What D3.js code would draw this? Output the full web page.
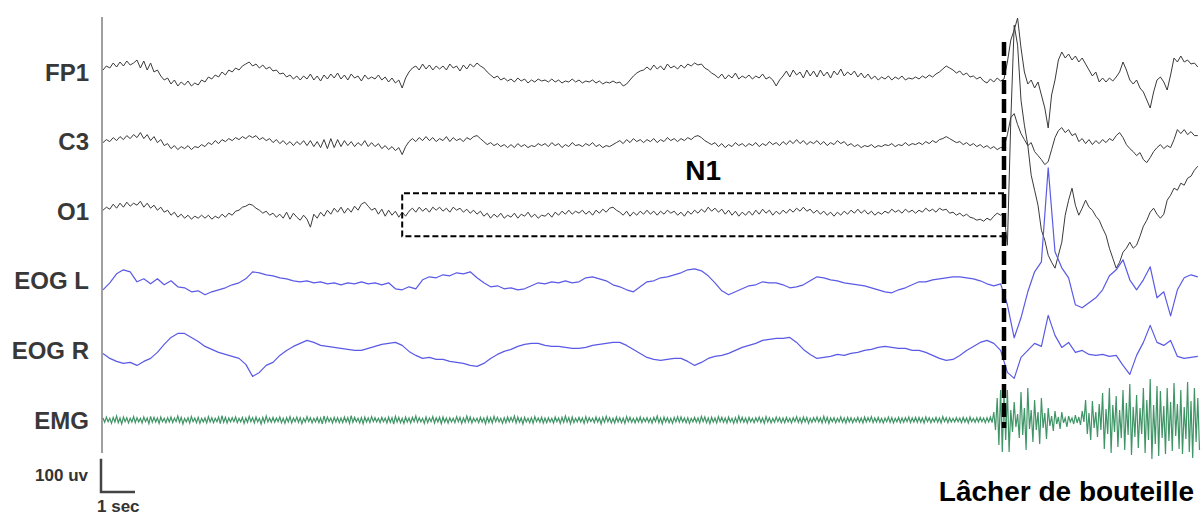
<!DOCTYPE html>
<html>
<head>
<meta charset="utf-8">
<script src="https://cdn.jsdelivr.net/npm/d3@7"></script>
<style>
  body { margin: 0; background: #fff; }
  text { font-family: "Liberation Sans", Arial, sans-serif; font-weight: bold; }
</style>
</head>
<body>
<script>
// channel names, top to bottom
const channels = ["FP1", "C3", "O1", "EOG L", "EOG R", "EMG"];

// EEG channels: one value (uv) every 0.1 s
const fp1 = [
  6, 18, 12, 27, 15, 30, 18, 33, 21, 27, 36, 12, 33, 6, 27, 0, 6, -12, -24, -18,
  -36, -24, -42, -30, -39, -27, -42, -33, -39, -24, -30, -15, -21, -9, -15, 0, -9, 6, 0, 12,
  6, 18, 24, 30, 18, 24, 12, 21, 9, 15, 3, 6, -6, -3, -15, -9, -21, -12, -24, -12,
  -21, -6, -24, -12, -27, -9, -21, -6, -18, -3, -21, -9, -24, -6, -18, -12, -27, -9, -21, -15,
  -21, -9, -24, -15, -30, -18, -33, -24, -48, -18, 0, 12, 18, 6, 24, 9, 21, 6, 18, 9,
  18, 6, 24, 12, 18, 3, 21, 9, 24, 15, 27, 18, 12, 0, -9, -18, -12, -24, -18, -27,
  -21, -30, -18, -27, -21, -33, -24, -30, -21, -27, -24, -30, -21, -30, -24, -33, -27, -30, -21, -30,
  -24, -33, -27, -30, -24, -33, -27, -36, -30, -33, -27, -33, -30, -42, -36, -24, -12, -3, 3, 6,
  15, 6, 21, 9, 18, 6, 24, 12, 18, 9, 21, 12, 24, 18, 27, 21, 24, 12, 6, -3,
  -9, -18, -6, -21, -9, -18, -3, -21, -12, -18, -9, -21, -12, -18, -6, -21, -15, -24, -42, -24,
  -12, 3, -15, 6, -9, 0, -18, 6, -12, 3, -15, 6, -12, 0, -18, 3, -9, 9, -12, 0,
  -9, 3, -15, -3, -18, -6, -21, -12, -24, -15, -21, -12, -24, -15, -21, -12, -24, -18, -21, -15,
  -21, -12, -18, -9, -15, -6, 0, 9, 18, 12, 6, -3, 3, -9, -3, -15, -12, -21, -15, -27,
  -33, -21, -30, -18, -27, -21,
  30, 96, 126, 162, 72, 0, -36, -24, -48, -30, -69, -108, -168, -69, -24, 36, 60, 42, 54, 36,
  48, 30, 42, 24, 6, -12, 0, -30, -18, -30, -18, -27, -15, 0, 30, 6, -24, -36, -24, -48,
  -60, -84, -108, -60, -24, -15, -30, -54, -9, 42, 30, 48, 30, 36, 24, 27, 15
];
const c3 = [
  -3, 6, 0, 12, 3, 15, 6, 18, 9, 21, 12, 27, 9, 21, 3, 15, -3, 6, -12, -6,
  -21, -12, -24, -15, -21, -12, -24, -15, -18, -9, -15, -3, -9, 3, -6, 6, 0, 9, 3, 12,
  6, 15, 9, 18, 12, 18, 6, 12, 3, 9, -3, 6, -6, 3, -9, 0, -12, 0, -9, 3,
  -12, 3, -15, 0, -18, 6, -21, 9, -18, 6, -15, 3, -12, 0, -15, -3, -12, 3, -15, -3,
  -15, -6, -21, -12, -24, -15, -27, -18, -39, -15, 0, 9, 0, 12, 3, 15, 3, 12, 0, 9,
  3, 15, 0, 12, 3, 9, 0, 12, 6, 15, 18, 9, 0, -9, -3, -12, -6, -15, -9, -18,
  -9, -18, -6, -15, -9, -18, -12, -15, -6, -12, -6, -15, -3, -12, -6, -18, -9, -15, -3, -12,
  -9, -15, -6, -12, -3, -15, -9, -18, -12, -15, -9, -3, 3, -6, 6, -3, 9, 0, 6, -3,
  6, 0, 9, -3, 6, 0, 12, 3, 9, 0, 9, 3, 12, 6, 15, 18, 12, 3, -3, -9,
  -3, -15, -6, -18, -9, -15, -3, -12, -6, -15, -6, -12, -3, -15, -6, -12, 0, -9, -3, -12,
  0, -9, 3, -6, 6, -6, 3, -9, 0, -6, 3, -9, 0, -12, -3, -9, 3, -6, 0, -12,
  -6, -15, -9, -18, -12, -15, -9, -18, -12, -15, -9, -12, -6, -15, -9, -12, -3, -12, -6, -9,
  -3, -9, 0, -6, 3, -3, 6, 9, 15, 9, 3, -3, 0, -9, -3, -12, -6, -15, -9, -18,
  -12, -21, -15, -24, -18, -18,
  21, 72, 84, 51, 24, 6, -12, -3, -30, -42, -54, -69, -60, -24, 12, 33, 42, 27, 36, 18,
  24, 0, 9, -6, 6, -9, 3, -6, 6, -3, 9, 3, 18, 27, 12, -9, -21, -30, -42, -33,
  -54, -63, -48, -30, -18, -9, -21, -12, -18, 6, 36, 24, 36, 21, 30, 18, 18
];
const o1 = [
  3, 12, 6, 21, 9, 24, 12, 27, 15, 24, 18, 30, 12, 24, 9, 18, 3, 12, -3, 3,
  -12, -3, -18, -9, -21, -12, -24, -15, -21, -12, -21, -12, -24, -15, -21, -9, -18, -6, -12, 0,
  3, 12, 15, 21, 18, 9, 3, -6, 0, -12, -6, -18, -9, -21, -3, -24, -6, -18, -27, -12,
  -24, -48, -9, -21, -3, -15, 3, -9, 9, -3, 12, -6, 9, -3, 15, 3, 21, 27, 15, 3,
  9, -9, 6, -15, 3, -12, 0, -18, -3, -15, 0, 9, -3, 12, 0, 9, -3, 12, 3, 12,
  0, 9, -3, 12, 3, 9, -3, 6, -6, 3, -9, 0, -15, -6, -21, -9, -18, -6, -21, -12,
  -18, -6, -21, -9, -15, -3, -18, -9, -21, -12, -15, -6, -18, -3, -12, 0, -9, 3, -9, 0,
  -6, 3, -9, 0, -12, 3, -6, 6, -3, 9, 12, 3, -3, -12, 0, -15, -3, -12, 0, -9,
  3, -9, 0, -12, 0, -9, 3, -6, 0, -12, -3, -15, 0, -9, 3, -6, 6, -3, 12, 0,
  9, -3, 6, -9, 3, -12, 0, -15, -3, -12, 0, -12, 3, -9, 6, -6, 3, -12, 0, -9,
  3, -6, 6, -3, 9, 0, 12, 0, 6, -6, 3, -9, 0, -12, -3, -15, -3, -12, 0, -9,
  3, -6, 6, -6, 3, -9, 0, -12, -3, -9, 0, -6, 6, -3, 3, -6, 6, -3, 3, -6,
  3, -3, 9, 0, 6, -3, 9, 3, 6, -6, -3, -12, -6, -15, -9, -18, -21, -27, -24, -30,
  -21, -27, -15, -6, -12, -6,
  -102, 273, 558, 498, 333, 258, 198, 108, 63, 18, -57, -87, -132, -153, -171, -132, -93, -12, 33, 69,
  18, -12, 9, 33, 12, 3, -15, -27, -51, -72, -111, -141, -171, -153, -123, -111, -93, -111, -102, -75,
  -45, -27, -3, 9, -9, -21, -9, 33, 48, 69, 63, 84, 78, 99, 105, 123, 135
];

// EOG channels: one value (uv) every 0.2 s
const eogL = [
  -27, -6, 21, 33, 27, -3, 6, -9, 6, -12, 0, -18, -21, -33, -30, -42, -33, -27, -21, -12,
  -6, 6, 27, 24, 18, 15, 9, 6, 0, -3, 0, -6, -3, -9, -6, -12, -6, -9, -3, -9,
  -6, -12, -6, -24, -27, -18, -24, 3, 12, 9, 18, 15, 24, 21, 27, 9, -6, -18, -15, -24,
  -21, -27, -24, -15, -6, -9, -3, -6, 0, -6, -3, 9, 12, 6, 0, -12, -18, -27, -33, -18,
  -3, 0, 9, 12, 18, 24, 33, 36, 30, 15, -6, -30, -42, -33, -24, -15, -12, -3, -6, -6,
  -12, -21, -18, -12, 0, 12, 9, 3, 0, -6, -9, -12, -15, -21, -27, -33, -36, -27, -21, -12,
  -3, -3, 3, 6, 9, 12, 12, 9, 6, 0, -9, -15, -9, -72, -171, -111, -33, 27, 57, 339,
  87, 39, 9, -72, -81, -66, -51, -27, 15, 33, 63, 3, -27, 3, 42, -51, -33, -105, -27, 9,
  18, 12
];
const eogR = [
  -9, -24, -33, -39, -36, -45, -33, -24, -6, 18, 39, 51, 51, 39, 27, 12, 3, -6, -12, -18,
  -24, -42, -78, -66, -45, -36, -15, 0, 12, 21, 30, 24, 15, 12, 9, 6, 3, 0, 0, 6,
  12, 18, 21, 24, 15, -3, -15, -24, -21, -27, -27, -33, -36, -39, -45, -48, -39, -24, -12, -3,
  3, 12, 18, 21, 21, 15, 12, 12, 9, 6, 6, 9, 15, 18, 21, 24, 24, 15, 3, -9,
  -21, -27, -30, -27, -24, -24, -33, -45, -36, -24, -18, -15, -9, 0, 9, 15, 21, 30, 33, 36,
  36, 39, 24, 3, -12, -24, -21, -18, -12, -15, -9, -6, 0, 3, 9, 12, 9, 6, 6, 0,
  0, -6, -15, -24, -30, -27, -15, 0, 12, 24, 30, 21, 0, -66, -84, -21, 0, 21, 12, 105,
  45, 9, 24, -6, 0, -12, -15, -12, -18, -15, -45, -72, -15, 24, 75, 24, 15, 30, -18, -24,
  -21, -18
];

// EMG: positive and negative peak (uv) in each 0.1 s
const emgHi = [
  6, 9, 5, 8, 12, 6, 9, 7, 5, 10, 7, 5, 9, 6, 11, 8, 6, 9, 5, 7,
  9, 6, 12, 8, 5, 7, 10, 6, 8, 5, 6, 10, 7, 5, 9, 13, 8, 6, 7, 9,
  5, 8, 6, 11, 7, 9, 5, 8, 12, 6, 8, 6, 9, 5, 7, 10, 6, 9, 7, 5,
  10, 7, 5, 8, 6, 12, 9, 6, 8, 7, 6, 9, 7, 13, 8, 5, 7, 9, 6, 10,
  7, 5, 8, 6, 9, 7, 11, 8, 5, 9, 6, 8, 12, 7, 5, 9, 6, 10, 7, 8,
  9, 6, 7, 5, 10, 8, 6, 12, 9, 6, 5, 8, 6, 9, 7, 11, 8, 5, 7, 9,
  8, 12, 9, 6, 8, 5, 7, 10, 6, 8, 6, 7, 5, 9, 6, 8, 12, 7, 9, 5,
  8, 6, 10, 7, 5, 9, 6, 8, 11, 7, 5, 9, 7, 6, 10, 8, 5, 7, 9, 6,
  7, 5, 8, 12, 6, 9, 7, 5, 8, 10, 9, 6, 7, 5, 8, 6, 11, 9, 6, 8,
  6, 10, 8, 6, 9, 5, 7, 12, 8, 6, 8, 5, 7, 9, 6, 10, 7, 5, 9, 7,
  6, 8, 5, 7, 10, 6, 9, 8, 5, 7, 9, 6, 11, 8, 6, 7, 5, 9, 6, 8,
  7, 5, 8, 6, 9, 7, 10, 6, 8, 5, 6, 9, 7, 5, 8, 6, 7, 9, 6, 8,
  8, 6, 9, 7, 5, 8, 6, 10, 7, 6, 5, 7, 6, 8, 6, 9, 5, 7, 8, 6,
  7, 9, 24, 66, 90, 78,
  90, 30, 54, 18, 84, 36, 96, 30, 60, 24, 66, 21, 36, 12, 27, 9, 24, 6, 12, 6,
  15, 9, 27, 60, 21, 57, 24, 48, 81, 33, 96, 45, 72, 30, 90, 51, 108, 39, 75, 36,
  96, 60, 123, 45, 102, 87, 42, 96, 54, 111, 48, 90, 39, 114, 57, 96, 66
];
const emgLo = [
  -7, -5, -10, -6, -8, -12, -5, -9, -6, -8, -6, -9, -5, -11, -7, -6, -10, -5, -8, -6,
  -8, -5, -7, -12, -6, -9, -5, -8, -10, -6, -9, -6, -8, -5, -11, -7, -9, -6, -5, -8,
  -6, -10, -7, -5, -9, -6, -12, -8, -6, -7, -7, -5, -8, -10, -6, -9, -5, -7, -11, -6,
  -5, -9, -6, -8, -12, -7, -5, -9, -6, -8, -8, -6, -10, -7, -5, -9, -11, -6, -8, -5,
  -6, -8, -5, -9, -7, -12, -6, -8, -10, -6, -9, -5, -7, -6, -10, -8, -5, -9, -6, -11,
  -7, -9, -6, -8, -5, -10, -7, -6, -9, -5, -8, -6, -11, -7, -9, -5, -6, -10, -8, -6,
  -5, -9, -7, -12, -6, -8, -10, -5, -7, -9, -8, -6, -9, -5, -10, -7, -6, -11, -8, -6,
  -6, -10, -7, -5, -8, -6, -12, -7, -5, -9, -9, -6, -8, -10, -5, -7, -9, -6, -8, -5,
  -7, -9, -5, -8, -11, -6, -8, -10, -6, -7, -6, -8, -10, -6, -7, -9, -5, -8, -11, -6,
  -9, -5, -7, -9, -6, -10, -8, -6, -7, -9, -6, -8, -5, -7, -10, -6, -9, -7, -5, -8,
  -8, -6, -9, -5, -7, -9, -6, -10, -7, -5, -6, -9, -7, -10, -5, -8, -6, -7, -9, -6,
  -8, -5, -7, -9, -6, -5, -8, -6, -7, -9, -5, -7, -9, -6, -8, -7, -5, -8, -6, -7,
  -7, -9, -5, -8, -6, -7, -9, -5, -8, -6, -6, -5, -8, -6, -9, -5, -7, -6, -5, -8,
  -6, -8, -30, -75, -96, -60,
  -96, -36, -21, -54, -45, -90, -27, -66, -30, -72, -24, -57, -18, -33, -12, -27, -9, -21, -6, -12,
  -9, -15, -6, -42, -60, -24, -51, -30, -87, -42, -99, -36, -81, -54, -90, -45, -105, -51, -84, -42,
  -99, -60, -117, -72, -108, -54, -102, -63, -93, -48, -87, -102, -57, -96, -114, -66, -90
];

const eventSec = 26.5;   // bottle drop
const n1Start = 8.8;     // start of the N1 window

const w = 1201;
const h = 517;
const secPx = 34;

const svg = d3.select("body")
  .append("svg")
  .attr("width", w)
  .attr("height", h)
  .style("display", "block");

const x = d3.scaleLinear()
  .domain([0, 32.2])
  .range([103, 103 + 32.2 * secPx]);

const rowY = d3.scalePoint()
  .domain(channels)
  .range([72, 420]);

// uv -> vertical offset in px (up is positive)
const amp = d3.scaleLinear()
  .domain([0, 100])
  .range([0, -100 / 3]);

function trace(vals, step, ch) {
  return d3.line()
    .x((d, i) => x(i * step))
    .y(d => rowY(ch) + amp(d))(vals);
}

// vertical time axis line
svg.append("line")
  .attr("x1", 102).attr("x2", 102)
  .attr("y1", 17).attr("y2", 453)
  .attr("stroke", "#808080")
  .attr("stroke-width", 1.5);

// channel labels
svg.selectAll(".lab")
  .data(channels)
  .enter()
  .append("text")
  .attr("class", "lab")
  .attr("x", 89)
  .attr("y", d => rowY(d))
  .attr("dy", "0.36em")
  .attr("text-anchor", "end")
  .attr("font-size", 24)
  .attr("fill", "#383838")
  .text(d => d);

// EEG
[[fp1, "FP1"], [c3, "C3"], [o1, "O1"]].forEach(function(p) {
  svg.append("path")
    .attr("d", trace(p[0], 0.1, p[1]))
    .attr("fill", "none")
    .attr("stroke", "#3a3a3a")
    .attr("stroke-width", 1)
    .attr("stroke-linejoin", "round");
});

// EOG
[[eogL, "EOG L"], [eogR, "EOG R"]].forEach(function(p) {
  svg.append("path")
    .attr("d", trace(p[0], 0.2, p[1]))
    .attr("fill", "none")
    .attr("stroke", "#5a5ae6")
    .attr("stroke-width", 1.2)
    .attr("stroke-linejoin", "round");
});

// EMG zigzag between the peaks of each 0.1 s
const emgPts = [];
emgHi.forEach(function(v, i) {
  emgPts.push([i * 0.1, v]);
  emgPts.push([i * 0.1 + 0.05, emgLo[i]]);
});
svg.append("path")
  .attr("d", d3.line().x(d => x(d[0])).y(d => rowY("EMG") + amp(d[1]))(emgPts))
  .attr("fill", "none")
  .attr("stroke", "#2b8a57")
  .attr("stroke-width", 1.2)
  .attr("stroke-opacity", 0.9);

// N1 window on O1
const boxTop = rowY("O1") - 18;
const boxBot = rowY("O1") + 25;
svg.append("path")
  .attr("d", "M" + x(eventSec) + "," + boxTop + "H" + x(n1Start) + "V" + boxBot + "H" + x(eventSec))
  .attr("fill", "none")
  .attr("stroke", "#000")
  .attr("stroke-width", 2)
  .attr("stroke-dasharray", "6,3");

svg.append("text")
  .attr("x", (x(n1Start) + x(eventSec)) / 2)
  .attr("y", boxTop - 13)
  .attr("text-anchor", "middle")
  .attr("font-size", 28)
  .attr("fill", "#000")
  .text("N1");

// bottle drop marker
svg.append("line")
  .attr("x1", x(eventSec)).attr("x2", x(eventSec))
  .attr("y1", rowY("FP1") - 30)
  .attr("y2", rowY("EMG") + 8)
  .attr("stroke", "#000")
  .attr("stroke-width", 4.5)
  .attr("stroke-dasharray", "14,5");

svg.append("text")
  .attr("x", 1194)
  .attr("y", 501)
  .attr("text-anchor", "end")
  .attr("font-size", 28)
  .attr("fill", "#000")
  .text("Lâcher de bouteille");

// scale bar: 100 uv by 1 sec
const sx = 101, sy = 492;
svg.append("path")
  .attr("d", "M" + sx + "," + (sy + amp(100)) + "V" + sy + "H" + (sx + x(1) - x(0)))
  .attr("fill", "none")
  .attr("stroke", "#444")
  .attr("stroke-width", 2.5);

svg.append("text")
  .attr("x", 88)
  .attr("y", 481)
  .attr("text-anchor", "end")
  .attr("font-size", 17)
  .attr("fill", "#333")
  .text("100 uv");

svg.append("text")
  .attr("x", 97)
  .attr("y", 512)
  .attr("font-size", 17)
  .attr("fill", "#333")
  .text("1 sec");
</script>
</body>
</html>
